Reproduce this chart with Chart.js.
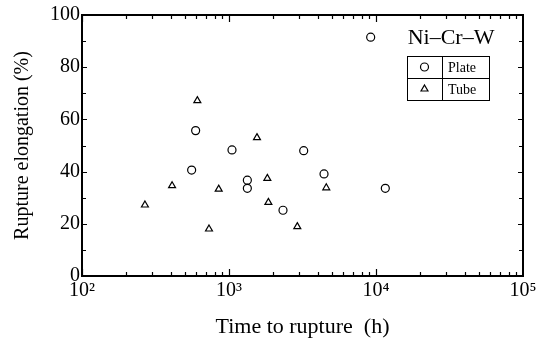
<!DOCTYPE html>
<html><head><meta charset="utf-8">
<script src="https://cdn.jsdelivr.net/npm/chart.js@4"></script>
<style>html,body{margin:0;padding:0;background:#fff;}canvas{display:block;}</style>
</head><body>
<canvas id="c" width="545" height="340"></canvas>
<script>
const plateTime = [9200, 593, 557, 1048, 1333, 1333, 3222, 2330, 4430, 11570];
const plateElong = [91.5, 55.7, 40.6, 48.3, 36.7, 33.6, 48.0, 25.2, 39.1, 33.6];
const tubeTime = [268, 410, 609, 731, 851, 1550, 1823, 1853, 2915, 4590];
const tubeElong = [27.2, 34.6, 67.2, 18.0, 33.3, 53.0, 37.4, 28.2, 18.9, 33.8];
const xTickValues = [100, 1000, 10000, 100000];
const xTickLabels = ['10²', '10³', '10⁴', '10⁵'];
const yTickValues = [0, 20, 40, 60, 80, 100];
const seriesNames = ['Plate', 'Tube'];
const legendTitle = 'Ni–Cr–W';

const SERIF = '"Liberation Serif", "Times New Roman", serif';

const framePlugin = {
  id: 'frame',
  afterDraw(chart) {
    const ctx = chart.ctx, a = chart.chartArea;
    const xs = chart.scales.x, ys = chart.scales.y;
    ctx.save();
    ctx.strokeStyle = '#000';
    ctx.lineWidth = 2;
    ctx.strokeRect(a.left, a.top, a.right - a.left, a.bottom - a.top);
    ctx.lineWidth = 1.2;
    ctx.beginPath();
    for (let v = 0; v <= 100; v += 10) {
      const y = Math.round(ys.getPixelForValue(v)) + 0.5;
      const len = (v % 20 === 0) ? 5 : 4;
      ctx.moveTo(a.left, y); ctx.lineTo(a.left + len, y);
      ctx.moveTo(a.right, y); ctx.lineTo(a.right - len, y);
    }
    for (let d = 100; d < 100000; d *= 10) {
      for (let m = 1; m <= 9; m++) {
        const v = d * m;
        const x = Math.round(xs.getPixelForValue(v)) + 0.5;
        const len = (m === 1) ? 7 : 4;
        ctx.moveTo(x, a.bottom); ctx.lineTo(x, a.bottom - len);
        ctx.moveTo(x, a.top); ctx.lineTo(x, a.top + len);
      }
    }
    ctx.stroke();

    // legend table (placed in data coordinates)
    const lx = Math.round(xs.getPixelForValue(16300)), rx = Math.round(xs.getPixelForValue(58700));
    const divx = Math.round(xs.getPixelForValue(28100));
    const ty = Math.round(ys.getPixelForValue(84.3)), by = Math.round(ys.getPixelForValue(67.4));
    const my = Math.round((ty + by) / 2);
    ctx.lineWidth = 1;
    ctx.strokeRect(lx + 0.5, ty + 0.5, rx - lx, by - ty);
    ctx.beginPath();
    ctx.moveTo(lx, my + 0.5); ctx.lineTo(rx + 1, my + 0.5);
    ctx.moveTo(divx + 0.5, ty); ctx.lineTo(divx + 0.5, by + 1);
    ctx.stroke();
    ctx.fillStyle = '#000';
    ctx.font = '22px ' + SERIF;
    ctx.textAlign = 'center';
    ctx.textBaseline = 'middle';
    ctx.fillText(legendTitle, xs.getPixelForValue(32400), ys.getPixelForValue(91.0));
    ctx.font = '14px ' + SERIF;
    ctx.textAlign = 'left';
    const mx = (lx + divx) / 2;
    const rows = [(ty + my) / 2, (my + by) / 2];
    chart.data.datasets.forEach((ds, i) => {
      ctx.fillStyle = '#000';
      ctx.fillText(ds.label, divx + 6, rows[i] + 1);
      ctx.fillStyle = 'rgba(0,0,0,0)';
      ctx.strokeStyle = '#000';
      ctx.lineWidth = 1.2;
      Chart.helpers.drawPoint(ctx, {pointStyle: ds.pointStyle, radius: ds.pointRadius, borderWidth: 1.2}, mx, rows[i]);
    });
    ctx.restore();
  }
};

new Chart(document.getElementById('c'), {
  type: 'scatter',
  data: {
    datasets: [
      { label: seriesNames[0], data: plateTime.map((t, i) => ({x: t, y: plateElong[i]})),
        pointStyle: 'circle', pointRadius: 4, borderColor: '#000', backgroundColor: 'rgba(0,0,0,0)', borderWidth: 1.2 },
      { label: seriesNames[1], data: tubeTime.map((t, i) => ({x: t, y: tubeElong[i]})),
        pointStyle: 'triangle', pointRadius: 4, borderColor: '#000', backgroundColor: 'rgba(0,0,0,0)', borderWidth: 1.2 }
    ]
  },
  options: {
    responsive: false,
    animation: false,
    events: [],
    layout: { padding: { left: 11, top: 15, right: 22, bottom: 0 } },
    plugins: { legend: { display: false }, tooltip: { enabled: false } },
    scales: {
      x: {
        type: 'logarithmic', min: 100, max: 100000,
        grid: { display: false, drawTicks: false }, border: { display: false },
        afterBuildTicks(s) { s.ticks = xTickValues.map(v => ({value: v})); },
        afterFit(s) { s.height = 64; },
        ticks: { color: '#000', font: { family: SERIF, size: 20 }, padding: 3, maxRotation: 0, autoSkip: false,
          callback(v) { const i = xTickValues.indexOf(v); return i >= 0 ? xTickLabels[i] : ''; } },
        title: { display: true, text: 'Time to rupture  (h)', color: '#000', font: { family: SERIF, size: 22 }, padding: { top: 0, bottom: 0 } }
      },
      y: {
        min: 0, max: 100,
        grid: { display: false, drawTicks: false }, border: { display: false },
        afterBuildTicks(s) { s.ticks = yTickValues.map(v => ({value: v})); },
        afterFit(s) { s.width = 71; },
        ticks: { color: '#000', font: { family: SERIF, size: 20 }, padding: 2 },
        title: { display: true, text: 'Rupture elongation (%)', color: '#000', font: { family: SERIF, size: 20 }, padding: { top: 0, bottom: 0 } }
      }
    }
  },
  plugins: [framePlugin]
});
</script>
</body></html>
